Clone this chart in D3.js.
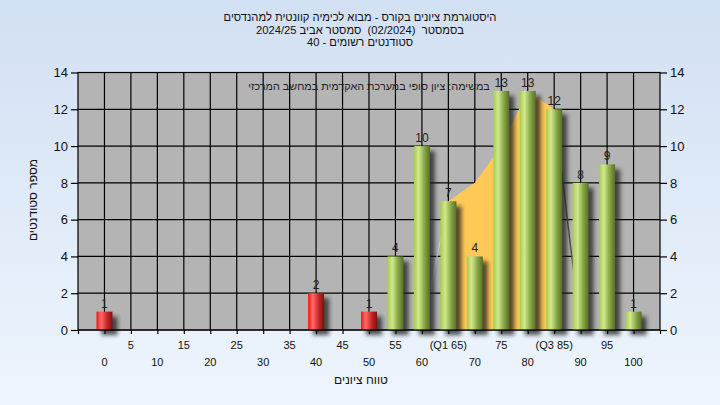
<!DOCTYPE html>
<html><head><meta charset="utf-8">
<script src="https://cdn.jsdelivr.net/npm/d3@7"></script>
<style>html,body{margin:0;padding:0;}svg{display:block;}text{white-space:pre;}</style>
</head><body>
<script>
// ---- data ----
const categories = [0,5,10,15,20,25,30,35,40,45,50,55,60,65,70,75,80,85,90,95,100];
const counts     = [1,0,0,0,0,0,0,0,2,0,1,4,10,7,4,13,13,12,8,9,1];
const passMark = 55;
const tickRow1 = ["5","15","25","35","45","55","(Q1 65)","75","(Q3 85)","95"];
const tickRow1Pos = [5,15,25,35,45,55,65,75,85,95];
const tickRow2 = ["0","10","20","30","40","50","60","70","80","90","100"];
const tickRow2Pos = [0,10,20,30,40,50,60,70,80,90,100];
const curveX = [60,65,70,75,80,85,90];
const curveY = [0,7,8,10,13,12,0];
const q1 = 65, q3 = 85;
const yTicks = [0,2,4,6,8,10,12,14];
const titleLines = ["היסטוגרמת ציונים בקורס - מבוא לכימיה קוונטית למהנדסים",
                    "בסמסטר  (02/2024)  סמסטר אביב 2024/25",
                    "סטודנטים רשומים - 40"];
const noteText = "במשימה: ציון סופי במערכת האקדמית במחשב המרכזי";
const xTitle = "טווח ציונים";
const yTitle = "מספר סטודנטים";

const W = 720, H = 405;
const L = 78, R = 660, T = 72.5, B = 330;
const font = "'Liberation Sans', Arial, sans-serif";

const svg = d3.select("body").append("svg").attr("width", W).attr("height", H);
const defs = svg.append("defs");
const bg = defs.append("linearGradient").attr("id","bg").attr("x1",0).attr("y1",0).attr("x2",0).attr("y2",1);
bg.append("stop").attr("offset","0%").attr("stop-color","#d2e0f3");
bg.append("stop").attr("offset","100%").attr("stop-color","#eef5fd");

function barGrad(id, c0, c1, c2, c3){
  const g = defs.append("linearGradient").attr("id",id).attr("x1",0).attr("y1",0).attr("x2",1).attr("y2",0);
  g.append("stop").attr("offset","0%").attr("stop-color",c0);
  g.append("stop").attr("offset","30%").attr("stop-color",c1);
  g.append("stop").attr("offset","65%").attr("stop-color",c2);
  g.append("stop").attr("offset","100%").attr("stop-color",c3);
}
barGrad("gRed", "#f01818", "#ff6a6a", "#c82828", "#801010");
barGrad("gGreen", "#a6cc4c", "#d0e98e", "#8aa848", "#566f26");

const f = defs.append("filter").attr("id","shadow").attr("x","-50%").attr("y","-50%").attr("width","200%").attr("height","200%");
f.append("feGaussianBlur").attr("stdDeviation",2);

svg.append("rect").attr("width",W).attr("height",H).attr("fill","url(#bg)");

const x = d3.scaleLinear().domain([-5,105]).range([L,R]);
const y = d3.scaleLinear().domain([0,14]).range([B,T]);

// plot background
svg.append("rect").attr("x",L).attr("y",T).attr("width",R-L).attr("height",B-T).attr("fill","#b4b4b4");

// gridlines
const grid = svg.append("g").attr("stroke","#000").attr("stroke-width",1.2);
grid.selectAll(".vg").data(categories).join("line")
  .attr("x1",d=>x(d)).attr("x2",d=>x(d)).attr("y1",T).attr("y2",B);
grid.selectAll(".hg").data(yTicks).join("line")
  .attr("x1",L).attr("x2",R).attr("y1",d=>y(d)).attr("y2",d=>y(d));

// area curve
const pts = curveX.map((c,i)=>[c,curveY[i]]);
const inner = pts.filter(p=>p[0]>=q1 && p[0]<=q3);
svg.append("path").datum(inner)
  .attr("d", d3.area().x(d=>x(d[0])).y0(y(0)).y1(d=>y(d[1])))
  .attr("fill","#ffc957");
const lineGen = d3.line().x(d=>x(d[0])).y(d=>y(d[1]));
svg.append("path").datum(pts.filter(p=>p[0]<=q1)).attr("d",lineGen)
  .attr("fill","none").attr("stroke","#cacaca").attr("stroke-width",1.2);
svg.append("path").datum(pts.filter(p=>p[0]>=q3)).attr("d",lineGen)
  .attr("fill","none").attr("stroke","#505050").attr("stroke-width",1.4);

// bars
const bw = 16;
const data = categories.map((c,i)=>({c, v:counts[i]})).filter(d=>d.v>0);
const bars = svg.append("g");
bars.selectAll(".sh").data(data).join("rect")
  .attr("x",d=>x(d.c)-bw/2+5).attr("y",d=>y(d.v)+5)
  .attr("width",bw).attr("height",d=>B-y(d.v))
  .attr("fill","#1a1a1a").attr("opacity",0.75).attr("filter","url(#shadow)");
bars.selectAll(".br").data(data).join("rect")
  .attr("x",d=>x(d.c)-bw/2).attr("y",d=>y(d.v))
  .attr("width",bw).attr("height",d=>B-y(d.v))
  .attr("fill",d=>d.c<passMark?"url(#gRed)":"url(#gGreen)");
bars.selectAll(".lb").data(data).join("text")
  .attr("x",d=>x(d.c)).attr("y",d=>y(d.v)-4)
  .attr("text-anchor","middle").attr("font-family",font).attr("font-size",12)
  .attr("fill","#222").text(d=>d.v);

// plot border
svg.append("rect").attr("x",L).attr("y",T).attr("width",R-L).attr("height",B-T)
  .attr("fill","none").attr("stroke","#000").attr("stroke-width",1.2);

// y axes
const yl = svg.append("g").attr("transform",`translate(${L},0)`)
  .call(d3.axisLeft(y).tickValues(yTicks).tickSize(7).tickPadding(3));
const yr = svg.append("g").attr("transform",`translate(${R},0)`)
  .call(d3.axisRight(y).tickValues(yTicks).tickSize(7).tickPadding(3));
[yl,yr].forEach(g=>{
  g.select(".domain").remove();
  g.selectAll("line").attr("stroke","#000").attr("stroke-width",1.2);
  g.selectAll("text").attr("font-family",font).attr("font-size",13).attr("fill","#111");
});

// x axis ticks
const xa = svg.append("g").attr("transform",`translate(0,${B})`)
  .call(d3.axisBottom(x).tickValues([-5].concat(categories).concat([105])).tickSize(4).tickFormat(""));
xa.select(".domain").remove();
xa.selectAll("line").attr("stroke","#000").attr("stroke-width",1.2);

svg.append("g").selectAll("text").data(tickRow1).join("text")
  .attr("x",(d,i)=>x(tickRow1Pos[i])).attr("y",349)
  .attr("text-anchor","middle").attr("font-family",font).attr("font-size",11)
  .attr("fill","#111").text(d=>d);
svg.append("g").selectAll("text").data(tickRow2).join("text")
  .attr("x",(d,i)=>x(tickRow2Pos[i])).attr("y",366)
  .attr("text-anchor","middle").attr("font-family",font).attr("font-size",11)
  .attr("fill","#111").text(d=>d);

// titles
svg.append("g").selectAll("text").data(titleLines).join("text")
  .attr("x",360).attr("y",(d,i)=>21+i*12.5)
  .attr("text-anchor","middle").attr("direction","rtl").attr("unicode-bidi","embed")
  .attr("font-family",font).attr("font-size",11.2).attr("fill","#111").text(d=>d);

svg.append("text").attr("x",(L+R)/2).attr("y",90)
  .attr("text-anchor","middle").attr("direction","rtl")
  .attr("font-family",font).attr("font-size",10.8).attr("fill","#222").text(noteText);

svg.append("text").attr("x",361).attr("y",384)
  .attr("text-anchor","middle").attr("direction","rtl")
  .attr("font-family",font).attr("font-size",12).attr("fill","#111").text(xTitle);

svg.append("text").attr("transform","translate(37,200) rotate(-90)")
  .attr("text-anchor","middle").attr("direction","rtl")
  .attr("font-family",font).attr("font-size",12).attr("fill","#111").text(yTitle);
</script>
</body></html>
